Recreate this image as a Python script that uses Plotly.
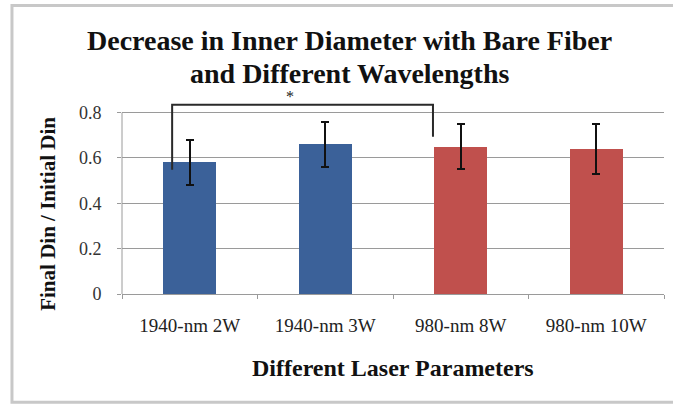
import plotly.graph_objects as go

# Laser settings and normalized inner-diameter results
categories = ["1940-nm 2W", "1940-nm 3W", "980-nm 8W", "980-nm 10W"]
ratio_mean = [0.58, 0.66, 0.65, 0.64]
ratio_err = [0.10, 0.10, 0.10, 0.11]
bar_colors = ["#3b6199", "#3b6199", "#c0504d", "#c0504d"]
y_ticks = [0, 0.2, 0.4, 0.6, 0.8]

# Significance bracket between the 1940-nm 2W and 980-nm 8W groups
bracket_x = [-0.13, -0.13, 1.795, 1.795]
bracket_y = [0.548, 0.835, 0.835, 0.694]

SERIF = "Liberation Serif, Times New Roman, Times, serif"

fig = go.Figure()

fig.add_trace(go.Bar(
    x=categories,
    y=ratio_mean,
    width=0.39,
    marker=dict(color=bar_colors, line=dict(width=0)),
    error_y=dict(type="data", array=ratio_err, visible=True,
                 color="#111111", thickness=2, width=4),
    showlegend=False,
))

fig.add_trace(go.Scatter(
    x=bracket_x,
    y=bracket_y,
    xaxis="x2",
    mode="lines",
    line=dict(color="#2a2a2a", width=2),
    showlegend=False,
    hoverinfo="skip",
))

bold = dict(family=SERIF, weight="bold", color="#111111")

fig.update_layout(
    width=673,
    height=405,
    margin=dict(l=122, r=9, t=99, b=111),
    paper_bgcolor="white",
    plot_bgcolor="white",
    bargap=0,
    xaxis=dict(
        type="category",
        showgrid=False,
        showline=True,
        linecolor="#9a9a9a",
        linewidth=1,
        ticks="outside",
        tickson="boundaries",
        ticklen=4,
        tickcolor="#9a9a9a",
        ticklabelstandoff=14,
        tickfont=dict(family=SERIF, size=19, color="#222222"),
        range=[-0.5, 3.5],
    ),
    xaxis2=dict(
        overlaying="x",
        range=[-0.5, 3.5],
        visible=False,
    ),
    yaxis=dict(
        range=[0, 0.86],
        tickvals=y_ticks,
        ticktext=["0", "0.2", "0.4", "0.6", "0.8"],
        showgrid=True,
        gridcolor="#9a9a9a",
        gridwidth=1,
        showline=False,
        zeroline=False,
        ticks="outside",
        ticklen=4,
        tickcolor="#9a9a9a",
        ticklabelstandoff=12,
        tickfont=dict(family=SERIF, size=18, color="#333333"),
    ),
    shapes=[
        # left value axis, running up to the top gridline
        dict(type="line", xref="paper", yref="y", x0=0, x1=0, y0=0, y1=0.8,
             line=dict(color="#9a9a9a", width=1)),
        # light frame around the chart
        dict(type="rect", xref="paper", yref="paper",
             x0=-0.203, x1=1.1, y0=-0.555, y1=1.48,
             line=dict(color="#c8c8c8", width=3)),
    ],
    annotations=[
        dict(text="Decrease in Inner Diameter with Bare Fiber",
             xref="paper", yref="paper", x=0.42, y=1.30,
             xanchor="center", yanchor="middle", showarrow=False,
             font=dict(size=28, **bold)),
        dict(text="and Different Wavelengths",
             xref="paper", yref="paper", x=0.42, y=1.13,
             xanchor="center", yanchor="middle", showarrow=False,
             font=dict(size=28, **bold)),
        dict(text="Different Laser Parameters",
             xref="paper", yref="paper", x=0.5, y=-0.38,
             xanchor="center", yanchor="middle", showarrow=False,
             font=dict(size=24, **bold)),
        dict(text="Final Din / Initial Din",
             xref="paper", yref="paper", x=-0.137, y=0.41,
             xanchor="center", yanchor="middle", textangle=-90,
             showarrow=False,
             font=dict(size=21, **bold)),
        dict(text="*", xref="paper", yref="paper", x=0.31, y=1.015,
             xanchor="center", yanchor="middle", showarrow=False,
             font=dict(family=SERIF, size=16, color="#222222")),
    ],
)

fig.write_html("out.html")
